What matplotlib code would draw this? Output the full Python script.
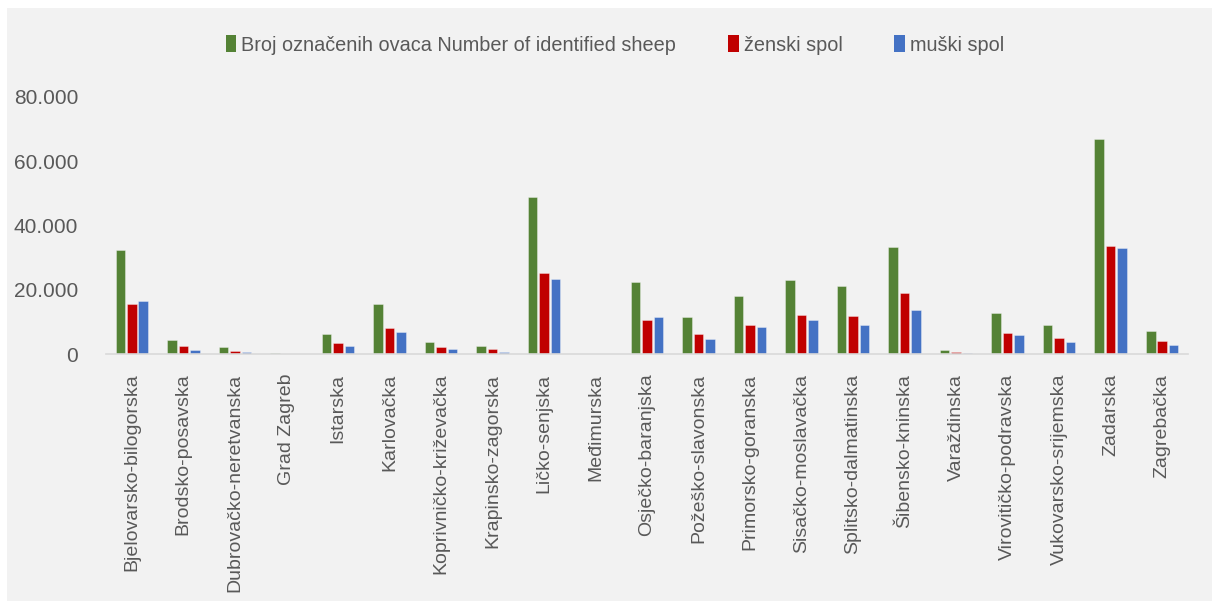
import matplotlib
matplotlib.use("Agg")
import matplotlib.pyplot as plt
import numpy as np
from matplotlib.ticker import FuncFormatter
from matplotlib.patches import Rectangle

categories = ["Bjelovarsko-bilogorska", "Brodsko-posavska", "Dubrovačko-neretvanska",
              "Grad Zagreb", "Istarska", "Karlovačka", "Koprivničko-križevačka",
              "Krapinsko-zagorska", "Ličko-senjska", "Međimurska", "Osječko-baranjska",
              "Požeško-slavonska", "Primorsko-goranska", "Sisačko-moslavačka",
              "Splitsko-dalmatinska", "Šibensko-kninska", "Varaždinska",
              "Virovitičko-podravska", "Vukovarsko-srijemska", "Zadarska", "Zagrebačka"]

total = [32450, 4350, 2180, 400, 6220, 15550, 3830, 2590, 48940, 200, 22500,
         11500, 18040, 23020, 21250, 33280, 1240, 12750, 9020, 66870, 7150]
female = [15650, 2600, 1040, 150, 3420, 8300, 2180, 1560, 25400, 120, 10790,
          6220, 9120, 12230, 11920, 19070, 720, 6530, 4980, 33590, 4040]
male = [16580, 1450, 720, 80, 2490, 6950, 1560, 720, 23330, 60, 11500,
        4870, 8500, 10580, 9020, 13780, 310, 6000, 3830, 33060, 2800]

series_names = ["Broj označenih ovaca Number of identified sheep", "ženski spol", "muški spol"]
colors = ["#548235", "#C00000", "#4472C4"]

plt.rcParams['font.family'] = ['Liberation Sans', 'DejaVu Sans']
txt = "#595959"

fig = plt.figure(figsize=(12.12, 6.01), dpi=100, facecolor="white")
fig.patches.append(Rectangle((7/1212, 0), 1 - 7/1212, 1 - 8/601, transform=fig.transFigure,
                             facecolor="#F2F2F2", edgecolor="none", zorder=-10))
ax = fig.add_axes([106/1212, 1 - 354.3/601, (1188 - 106)/1212, (354.3 - 97)/601])
ax.set_facecolor("none")

x = np.arange(len(categories))
off = 0.223
w = 0.185
for i, (vals, c, name) in enumerate(zip([total, female, male], colors, series_names)):
    ax.bar(x + (i - 1) * off, vals, width=w, color=c, label=name,
           edgecolor=(1, 1, 1, 0.35), linewidth=0.7, zorder=2)

ax.set_xlim(-0.5, len(categories) - 0.5)
ax.set_ylim(0, 80000)
ax.set_yticks([0, 20000, 40000, 60000, 80000])
ax.yaxis.set_major_formatter(FuncFormatter(lambda v, p: "0" if v == 0 else f"{int(v):,}".replace(",", ".")))
ax.set_xticks(x)
ax.set_xticklabels(categories, rotation=90, va="top", ha="center")
ax.tick_params(axis="y", length=0, pad=20, labelsize=15, labelcolor=txt)
ax.tick_params(axis="x", length=0, pad=14, labelsize=14, labelcolor=txt)
for s in ["top", "right", "left"]:
    ax.spines[s].set_visible(False)
ax.spines["bottom"].set_color("#D9D9D9")
ax.spines["bottom"].set_linewidth(1.2)

leg = fig.legend(loc="center", bbox_to_anchor=(615/1212, 1 - 45/601), ncol=3, frameon=False,
                 fontsize=14.3, handlelength=0.55, handleheight=0.9, handletextpad=0.25,
                 columnspacing=2.6, labelcolor=txt)
for h in leg.legend_handles:
    h.set_edgecolor("none")

fig.savefig("out.png", dpi=100, facecolor=fig.get_facecolor())
